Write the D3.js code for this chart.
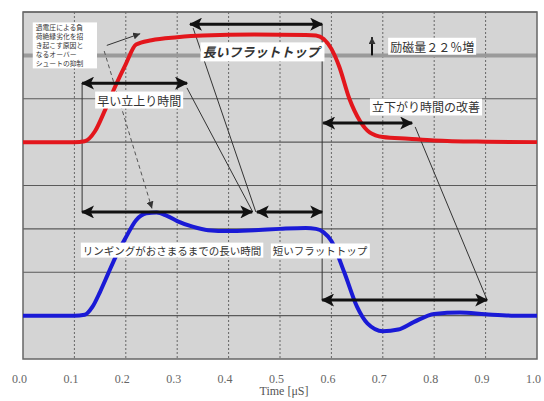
<!DOCTYPE html>
<html>
<head>
<meta charset="utf-8">
<script src="https://cdn.jsdelivr.net/npm/d3@7"></script>
<style>
  body { margin: 0; background: #fff; }
  svg { display: block; }
</style>
</head>
<body>
<div id="chart"></div>
<script>
// waveform data (time in µs, level in grid divisions)
var redTime  = [0, 0.1, 0.12, 0.14, 0.16, 0.18, 0.2, 0.22, 0.25, 0.3, 0.35, 0.45, 0.55, 0.57, 0.585, 0.6, 0.615, 0.635, 0.655, 0.675, 0.7, 0.75, 0.8, 0.9, 1.0];
var redLevel = [5.0, 5.0, 5.02, 5.25, 5.75, 6.3, 6.8, 7.25, 7.35, 7.42, 7.46, 7.48, 7.47, 7.46, 7.38, 7.15, 6.75, 6.0, 5.5, 5.22, 5.12, 5.08, 5.04, 5.01, 5.0];

var blueTime  = [0, 0.1, 0.12, 0.135, 0.15, 0.165, 0.18, 0.2, 0.22, 0.24, 0.26, 0.28, 0.3, 0.33, 0.36, 0.4, 0.45, 0.5, 0.55, 0.57, 0.585, 0.6, 0.625, 0.65, 0.67, 0.7, 0.73, 0.76, 0.8, 0.85, 0.9, 0.95, 1.0];
var blueLevel = [1.0, 1.0, 1.02, 1.2, 1.55, 1.95, 2.35, 2.8, 3.2, 3.36, 3.38, 3.3, 3.18, 3.05, 2.97, 2.95, 2.97, 3.0, 3.02, 3.0, 2.92, 2.72, 2.0, 1.2, 0.82, 0.64, 0.68, 0.85, 1.04, 1.07, 1.03, 1.0, 1.0];

var timeTicks = [0, 0.1, 0.2, 0.3, 0.4, 0.5, 0.6, 0.7, 0.8, 0.9, 1.0];
var levelLines = [1, 2, 3, 4, 5, 6, 7, 8];

// annotations, in data units
var doubleArrows = [
  { t0: 0.325, t1: 0.582, v: 7.72 },   // long flat top
  { t0: 0.115, t1: 0.319, v: 6.36 },   // fast rise
  { t0: 0.115, t1: 0.446, v: 3.39 },   // ringing
  { t0: 0.455, t1: 0.582, v: 3.39 },   // short flat top
  { t0: 0.584, t1: 0.757, v: 5.44 },   // fall time
  { t0: 0.582, t1: 0.903, v: 1.36 }
];
var guideLines = [
  { t0: 0.582, v0: 7.72, t1: 0.582, v1: 1.36 },
  { t0: 0.115, v0: 6.36, t1: 0.115, v1: 3.39 },
  { t0: 0.319, v0: 6.25, t1: 0.447, v1: 3.39 },
  { t0: 0.331, v0: 7.63, t1: 0.453, v1: 3.39 },
  { t0: 0.763, v0: 5.35, t1: 0.903, v1: 1.36 }
];
var labels = [
  { text: "長いフラットトップ", t: 0.463, v: 7.08, size: 13, bold: true },
  { text: "早い立上り時間", t: 0.226, v: 5.97, size: 12 },
  { text: "リンギングがおさまるまでの長い時間", t: 0.29, v: 2.51, size: 10.5 },
  { text: "短いフラットトップ", t: 0.578, v: 2.49, size: 10.5 },
  { text: "立下がり時間の改善", t: 0.784, v: 5.81, size: 12 },
  { text: "励磁量２２％増", t: 0.796, v: 7.21, size: 12 }
];
var noteLines = ["過電圧による負", "荷絶縁劣化を招", "き起こす原因と", "なるオーバー", "シュートの抑制"];

const width = 544;
const height = 401;
const margin = { top: 12, right: 7, bottom: 42, left: 23 };

const svg = d3.select('#chart')
  .append('svg')
  .attr('width', width)
  .attr('height', height);

const x = d3.scaleLinear()
  .domain([0, 1])
  .range([margin.left, width - margin.right]);

const y = d3.scaleLinear()
  .domain([0, 8])
  .range([height - margin.bottom, margin.top]);

const jp = '"Noto Sans CJK JP", sans-serif';

var defs = svg.append('defs');
defs.append('marker')
  .attr('id', 'head')
  .attr('viewBox', '0 -6 12 12')
  .attr('refX', 11).attr('refY', 0)
  .attr('markerUnits', 'userSpaceOnUse')
  .attr('markerWidth', 13).attr('markerHeight', 13)
  .attr('orient', 'auto-start-reverse')
  .append('path')
  .attr('d', 'M0,-6L12,0L0,6L3,0Z')
  .attr('fill', '#111');
defs.append('marker')
  .attr('id', 'small')
  .attr('viewBox', '0 -4 8 8')
  .attr('refX', 8).attr('refY', 0)
  .attr('markerUnits', 'userSpaceOnUse')
  .attr('markerWidth', 7).attr('markerHeight', 7)
  .attr('orient', 'auto')
  .append('path')
  .attr('d', 'M0,-4L8,0L0,4Z')
  .attr('fill', '#333');

// plot background
svg.append('rect')
  .attr('x', x(0)).attr('y', y(8))
  .attr('width', x(1) - x(0)).attr('height', y(0) - y(8))
  .attr('fill', '#d4d4d4');

// vertical dotted grid
svg.append('g')
  .selectAll('line')
  .data(timeTicks.slice(1, -1))
  .join('line')
  .attr('x1', d => x(d)).attr('x2', d => x(d))
  .attr('y1', y(8)).attr('y2', y(0))
  .attr('stroke', '#666')
  .attr('stroke-dasharray', '2,2');

// horizontal grid
svg.append('g')
  .selectAll('line')
  .data(levelLines)
  .join('line')
  .attr('x1', x(0)).attr('x2', x(1))
  .attr('y1', d => y(d)).attr('y2', d => y(d))
  .attr('stroke', d => d === 7 ? '#9a9a9a' : '#5a5a5a')
  .attr('stroke-width', d => d === 7 ? 4 : 1.2);

svg.append('rect')
  .attr('x', x(0)).attr('y', y(8))
  .attr('width', x(1) - x(0)).attr('height', y(0) - y(8))
  .attr('fill', 'none')
  .attr('stroke', '#666')
  .attr('stroke-width', 1.5);

// guide lines
svg.append('g')
  .selectAll('line')
  .data(guideLines)
  .join('line')
  .attr('x1', d => x(d.t0)).attr('y1', d => y(d.v0))
  .attr('x2', d => x(d.t1)).attr('y2', d => y(d.v1))
  .attr('stroke', '#333')
  .attr('stroke-width', 1);

// dashed pointer to blue overshoot
svg.append('line')
  .attr('x1', x(0.158)).attr('y1', y(7.1))
  .attr('x2', x(0.251)).attr('y2', y(3.47))
  .attr('stroke', '#555')
  .attr('stroke-dasharray', '4,3')
  .attr('marker-end', 'url(#small)');

// pointer to red overshoot
svg.append('line')
  .attr('x1', x(0.163)).attr('y1', y(7.23))
  .attr('x2', x(0.228)).attr('y2', y(7.5))
  .attr('stroke', '#333')
  .attr('marker-end', 'url(#small)');

// waveforms
var line = d3.line()
  .x(d => x(d[0]))
  .y(d => y(d[1]))
  .curve(d3.curveMonotoneX);

svg.append('path')
  .datum(d3.zip(redTime, redLevel))
  .attr('d', line)
  .attr('fill', 'none')
  .attr('stroke', '#e3161c')
  .attr('stroke-width', 4);

svg.append('path')
  .datum(d3.zip(blueTime, blueLevel))
  .attr('d', line)
  .attr('fill', 'none')
  .attr('stroke', '#1a1ad6')
  .attr('stroke-width', 4);

// double arrows
svg.append('g')
  .selectAll('line')
  .data(doubleArrows)
  .join('line')
  .attr('x1', d => x(d.t0)).attr('x2', d => x(d.t1))
  .attr('y1', d => y(d.v)).attr('y2', d => y(d.v))
  .attr('stroke', '#111')
  .attr('stroke-width', 3)
  .attr('marker-start', 'url(#head)')
  .attr('marker-end', 'url(#head)');

// up arrow
svg.append('line')
  .attr('x1', x(0.679)).attr('x2', x(0.679))
  .attr('y1', y(7.0)).attr('y2', y(7.42))
  .attr('stroke', '#111')
  .attr('stroke-width', 2)
  .attr('marker-end', 'url(#small)');

// labels with white boxes
var lab = svg.append('g')
  .selectAll('g')
  .data(labels)
  .join('g');

lab.append('text')
  .attr('x', d => x(d.t)).attr('y', d => y(d.v))
  .attr('text-anchor', 'middle')
  .attr('dominant-baseline', 'central')
  .attr('font-family', jp)
  .attr('font-size', d => d.size)
  .attr('font-weight', d => d.bold ? 'bold' : 'normal')
  .attr('font-style', d => d.bold ? 'italic' : 'normal')
  .attr('fill', '#333')
  .text(d => d.text);

lab.each(function () {
  var g = d3.select(this);
  var b = g.select('text').node().getBBox();
  g.insert('rect', 'text')
    .attr('x', b.x - 2).attr('y', b.y)
    .attr('width', b.width + 4).attr('height', b.height)
    .attr('fill', '#fff');
});

// note box top left
var note = svg.append('g');
note.append('rect')
  .attr('x', x(0.019)).attr('y', y(7.76))
  .attr('width', x(0.144) - x(0.019)).attr('height', y(6.7) - y(7.76))
  .attr('fill', '#fff');
note.selectAll('text')
  .data(noteLines)
  .join('text')
  .attr('x', x(0.019) + 3)
  .attr('y', (d, i) => y(7.76) + 8 + i * 9)
  .attr('font-family', jp)
  .attr('font-size', 6.8)
  .attr('fill', '#333')
  .text(d => d);

// x axis
const xAxis = g => g
  .attr('transform', `translate(-4,${height - margin.bottom + 12})`)
  .call(d3.axisBottom(x).tickValues(timeTicks).tickFormat(d3.format('.1f')).tickSize(0))
  .call(g => g.select('.domain').remove())
  .call(g => g.selectAll('text')
    .attr('font-family', '"Liberation Serif", serif')
    .attr('font-size', 12)
    .attr('fill', '#666'));
svg.append('g').call(xAxis);

svg.append('text')
  .attr('x', 284).attr('y', 395)
  .attr('text-anchor', 'middle')
  .attr('font-family', '"Liberation Serif", serif')
  .attr('font-size', 12)
  .attr('fill', '#555')
  .text('Time [μS]');
</script>
</body>
</html>
